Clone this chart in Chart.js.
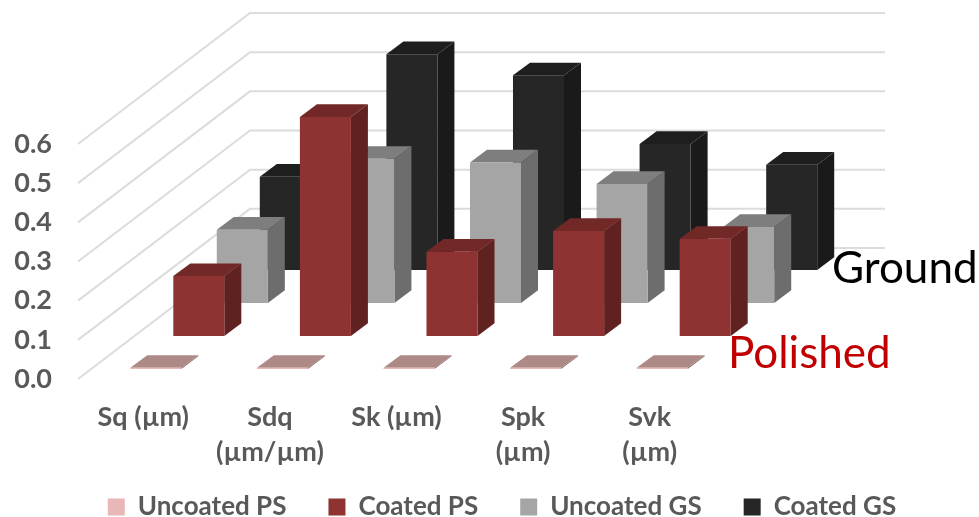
<!DOCTYPE html>
<html>
<head>
<meta charset="utf-8">
<title>Surface roughness</title>
<script src="https://cdn.jsdelivr.net/npm/chart.js@4/dist/chart.umd.js"></script>
<style>
    html, body { margin: 0; padding: 0; background: #fff; overflow: hidden; }
    canvas { display: block; }
</style>
</head>
<body>
<canvas id="roughnessChart" width="979" height="517"></canvas>
<script>
const categories = ['Sq (µm)', ['Sdq', '(µm/µm)'], 'Sk (µm)', ['Spk', '(µm)'], ['Svk', '(µm)']];
const yTicks = [0, 0.1, 0.2, 0.3, 0.4, 0.5, 0.6];

const uncoatedPS = [0.003, 0.003, 0.003, 0.003, 0.003];
const coatedPS = [0.153, 0.559, 0.215, 0.268, 0.248];
const uncoatedGS = [0.187, 0.368, 0.359, 0.304, 0.194];
const coatedGS = [0.238, 0.551, 0.497, 0.322, 0.269];

// each row sits further back on the floor of the box
const rowShift = [[12.5, -10], [55.5, -43], [99, -76], [142, -109]];
const barDepth = [17, -12.7];
const wallDepth = [172, -131];
const backWallEnd = 885;
const legendTop = 452;

const frontColors = ['#e9b7b7', '#8f3332', '#a5a5a5', '#262626'];
const topColors = ['#ae8a86', '#722826', '#7e7e7e', '#1e1e1e'];
const sideColors = ['#8a6a68', '#602220', '#6d6d6d', '#1a1a1a'];

function drawFace(ctx, color, points) {
    ctx.fillStyle = color;
    ctx.beginPath();
    points.forEach((p, i) => (i ? ctx.lineTo(p[0], p[1]) : ctx.moveTo(p[0], p[1])));
    ctx.closePath();
    ctx.fill();
}

// Side walls of the box: each tick runs back along the left wall, then across the back
const wallGrid = {
    id: 'wallGrid',
    // the legend's wide item gap also pads it vertically, so pull it up under the tick labels
    afterLayout(chart) {
        chart.legend.top = legendTop;
    },
    beforeDatasetsDraw(chart) {
        const { ctx, scales } = chart;
        const left = scales.x.left - 2;
        ctx.save();
        ctx.strokeStyle = '#dcdcdc';
        ctx.lineWidth = 2;
        yTicks.forEach((t) => {
            const y = scales.y.getPixelForValue(t);
            ctx.beginPath();
            ctx.moveTo(left, y);
            ctx.lineTo(left + wallDepth[0], y + wallDepth[1]);
            ctx.lineTo(backWallEnd, y + wallDepth[1]);
            ctx.stroke();
        });
        ctx.restore();
    }
};

// Fakes the 3D columns: moves each dataset to its row and adds top and side faces
const depthBars = {
    id: 'depthBars',
    beforeDatasetDraw(chart, args) {
        const { ctx } = chart;
        const [dx, dy] = rowShift[args.index];
        ctx.save();
        ctx.translate(dx, dy);
        args.meta.data.forEach((bar) => {
            const l = bar.x - bar.width / 2;
            const r = bar.x + bar.width / 2;
            const [bx, by] = barDepth;
            drawFace(ctx, sideColors[args.index], [[r, bar.y], [r + bx, bar.y + by], [r + bx, bar.base + by], [r, bar.base]]);
            drawFace(ctx, topColors[args.index], [[l, bar.y], [l + bx, bar.y + by], [r + bx, bar.y + by], [r, bar.y]]);
        });
    },
    afterDatasetDraw(chart) {
        chart.ctx.restore();
    }
};

const rowLabels = {
    id: 'rowLabels',
    afterDraw(chart) {
        const { ctx } = chart;
        ctx.save();
        ctx.font = '44px Lato';
        ctx.textBaseline = 'alphabetic';
        ctx.fillStyle = '#000000';
        ctx.fillText('Ground', 832, 283);
        ctx.fillStyle = '#c00000';
        ctx.fillText('Polished', 728, 368);
        ctx.restore();
    }
};

const names = ['Uncoated PS', 'Coated PS', 'Uncoated GS', 'Coated GS'];
const series = [uncoatedPS, coatedPS, uncoatedGS, coatedGS];

new Chart(document.getElementById('roughnessChart'), {
    type: 'bar',
    data: {
        labels: categories,
        datasets: series.map((values, i) => ({
            label: names[i],
            data: values,
            backgroundColor: frontColors[i],
            grouped: false,
            barPercentage: 0.403,
            categoryPercentage: 1,
            clip: false
        }))
    },
    plugins: [wallGrid, depthBars, rowLabels],
    options: {
        responsive: false,
        animation: false,
        events: [],
        layout: { padding: { left: 0, right: -25, top: 144, bottom: -35 } },
        scales: {
            x: {
                grid: { display: false },
                border: { display: false },
                ticks: {
                    color: '#595959',
                    font: { family: 'Lato', weight: 'bold', size: 27, lineHeight: 1.3 },
                    padding: 13,
                    maxRotation: 0,
                    autoSkip: false
                },
                afterFit(scale) { scale.height = 95; }
            },
            y: {
                min: 0,
                max: 0.6,
                grid: { display: false },
                border: { display: false },
                ticks: {
                    stepSize: 0.1,
                    color: '#595959',
                    font: { family: 'Lato', weight: 'bold', size: 27 },
                    padding: 20,
                    callback: (v) => v.toFixed(1)
                },
                afterFit(scale) { scale.width = 80; }
            },
            // empty axis, keeps room for the back wall on the right of the plot
            rightGap: {
                position: 'right',
                min: 0,
                max: 1,
                grid: { display: false },
                border: { display: false },
                ticks: { display: false },
                afterFit(scale) { scale.width = 291; }
            }
        },
        plugins: {
            title: { display: false },
            tooltip: { enabled: false },
            legend: {
                position: 'bottom',
                labels: {
                    boxWidth: 17,
                    boxHeight: 17,
                    padding: 42,
                    color: '#595959',
                    font: { family: 'Lato', weight: 'bold', size: 26 }
                }
            }
        }
    }
});
</script>
</body>
</html>
